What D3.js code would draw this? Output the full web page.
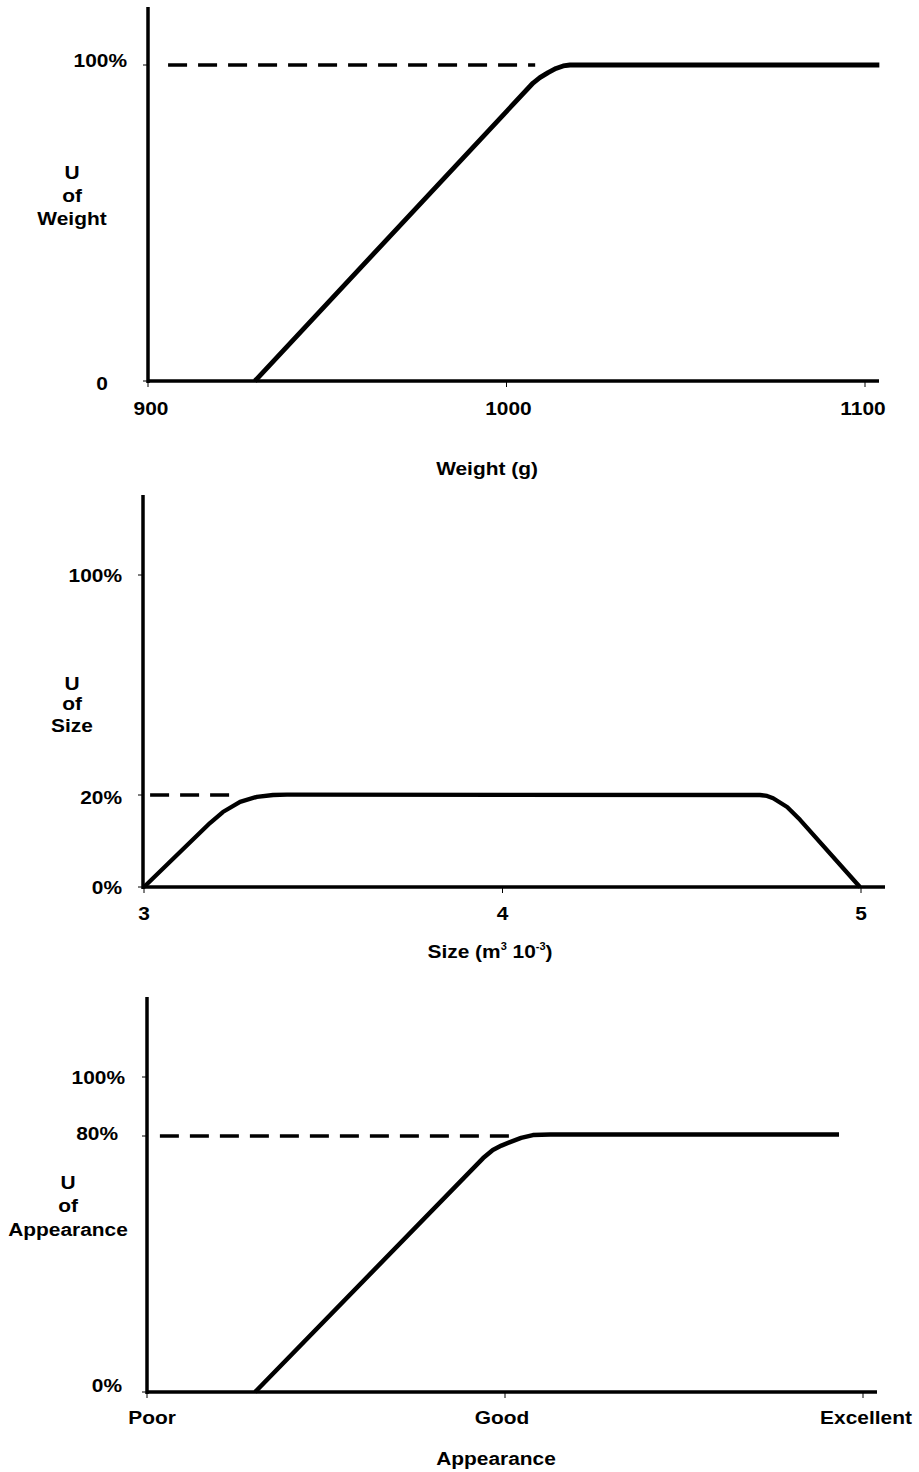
<!DOCTYPE html>
<html><head><meta charset="utf-8">
<script src="https://cdn.jsdelivr.net/npm/d3@7"></script>
<style>
body{margin:0;background:#fff}
text{font-family:"Liberation Sans",Arial,sans-serif;font-weight:bold;font-size:19px;fill:#000}
</style>
</head><body>
<svg id="c" width="919" height="1472"></svg>
<script>
// ---------- DATA ----------
// Chart 1: utility of weight
const weightTicks = [900, 1000, 1100];
const weightUTicks = [0, 100];
const weightUTickLabels = ["0", "100%"];
const weightX = [929.8, 1007.4, 1009.3, 1011.6, 1013.8, 1015.8, 1017.7, 1104];
const weightU = [0, 94.3, 96.0, 97.6, 98.9, 99.7, 100, 100];
const weightRefX = [905.6, 1008];
const weightRefU = [100, 100];

// Chart 2: utility of size
const sizeTicks = [3, 4, 5];
const sizeUTicks = [0, 20, 100];
const sizeUTickLabels = ["0%", "20%", "100%"];
const sizeX = [3.0, 3.184, 3.220, 3.268, 3.315, 3.360, 3.399, 4.718, 4.738, 4.755, 4.794, 4.830, 4.997];
const sizeU = [0, 13.9, 16.3, 18.5, 19.6, 20.0, 20.1, 20.0, 19.8, 19.3, 17.4, 14.6, 0];
const sizeRefX = [3.017, 3.24];
const sizeRefU = [20, 20];

// Chart 3: utility of appearance
const appearanceCats = ["Poor", "Good", "Excellent"];
const appearanceUTicks = [0, 80, 100];
const appearanceUTickLabels = ["0%", "80%", "100%"];
const appearanceX = [0.302, 0.939, 0.966, 0.990, 1.014, 1.045, 1.078, 1.126, 1.933];
const appearanceU = [0, 73.1, 75.6, 77.0, 78.1, 79.4, 80.3, 80.5, 80.5];
const appearanceRefX = [0.036, 1.02];
const appearanceRefU = [80, 80];

// ---------- LAYOUT ----------
const charts = [
  {
    xDomain: [900, 1100], xRange: [148, 865],
    yDomain: [0, 100], yRange: [381, 65],
    axisX: 148, axisTop: 7, axisY: 381, axisRight: 879,
    xTicks: weightTicks, xFmt: d => String(d), xLabelDx: [3, 2, -2], xLabelDy: 27,
    yTicks: weightUTicks, yLabels: weightUTickLabels,
    yLabelX: [102, 127], yLabelAnchor: ["middle", "end"], yLabelDy: [2, -5],
    yTitle: ["U", "of", "Weight"], yTitleX: 72, yTitleY: [172, 195, 218],
    xTitle: "Weight (g)", xTitleX: 487, xTitleY: 468,
    lineX: weightX, lineY: weightU, refX: weightRefX, refY: weightRefU, lw: 4.8
  },
  {
    xDomain: [3, 5], xRange: [144, 861],
    yDomain: [0, 20, 100], yRange: [887, 795, 575],
    axisX: 143, axisTop: 495, axisY: 887, axisRight: 885,
    xTicks: sizeTicks, xFmt: d => String(d), xLabelDx: [0, 0, 0], xLabelDy: 26,
    yTicks: sizeUTicks, yLabels: sizeUTickLabels,
    yLabelX: [122, 122, 122], yLabelAnchor: ["end", "end", "end"], yLabelDy: [0, 2, 0],
    yTitle: ["U", "of", "Size"], yTitleX: 72, yTitleY: [683, 703, 725],
    xTitle: null, xTitleX: 490, xTitleY: 951,
    lineX: sizeX, lineY: sizeU, refX: sizeRefX, refY: sizeRefU, lw: 4.3
  },
  {
    xDomain: [0, 2], xRange: [147, 863],
    yDomain: [0, 80, 100], yRange: [1392, 1136, 1077],
    axisX: 147, axisTop: 997, axisY: 1392, axisRight: 877,
    xTicks: [0, 1, 2], xFmt: i => appearanceCats[i], xLabelDx: [5, -3, 3], xLabelDy: 25,
    yTicks: appearanceUTicks, yLabels: appearanceUTickLabels,
    yLabelX: [122, 118, 125], yLabelAnchor: ["end", "end", "end"], yLabelDy: [-7, -3, 0],
    yTitle: ["U", "of", "Appearance"], yTitleX: 68, yTitleY: [1182, 1205, 1229],
    xTitle: "Appearance", xTitleX: 496, xTitleY: 1458,
    lineX: appearanceX, lineY: appearanceU, refX: appearanceRefX, refY: appearanceRefU, lw: 4.5
  }
];

const svg = d3.select("#c");
const SX = 1.1;

function addText(g, x, y, str, anchor) {
  return g.append("text")
    .attr("transform", `translate(${x},${y}) scale(${SX},1)`)
    .attr("text-anchor", anchor || "middle")
    .attr("dy", "0.36em")
    .text(str);
}

charts.forEach((c) => {
  const g = svg.append("g");
  const x = d3.scaleLinear().domain(c.xDomain).range(c.xRange);
  const y = d3.scaleLinear().domain(c.yDomain).range(c.yRange);

  // axis lines
  g.append("line").attr("x1", c.axisX).attr("x2", c.axisX)
    .attr("y1", c.axisTop).attr("y2", c.axisY + 2)
    .attr("stroke", "#000").attr("stroke-width", 3.5);
  g.append("line").attr("x1", c.axisX).attr("x2", c.axisRight)
    .attr("y1", c.axisY).attr("y2", c.axisY)
    .attr("stroke", "#000").attr("stroke-width", 3.5);

  // x ticks
  c.xTicks.forEach((t, i) => {
    g.append("line").attr("x1", x(t)).attr("x2", x(t))
      .attr("y1", c.axisY).attr("y2", c.axisY + 6)
      .attr("stroke", "#000").attr("stroke-width", 1);
    addText(g, x(t) + c.xLabelDx[i], c.axisY + c.xLabelDy, c.xFmt(t), "middle");
  });

  // y ticks
  c.yTicks.forEach((t, i) => {
    g.append("line").attr("x1", c.axisX - 5).attr("x2", c.axisX)
      .attr("y1", y(t)).attr("y2", y(t))
      .attr("stroke", "#000").attr("stroke-width", 1);
    g.append("text")
      .attr("transform", `translate(${c.yLabelX[i]},${y(t) + c.yLabelDy[i]}) scale(${SX},1)`)
      .attr("text-anchor", c.yLabelAnchor[i])
      .attr("dy", "0.36em")
      .text(c.yLabels[i]);
  });

  // y title
  c.yTitle.forEach((s, i) => addText(g, c.yTitleX, c.yTitleY[i], s, "middle"));

  // x title
  if (c.xTitle) {
    addText(g, c.xTitleX, c.xTitleY, c.xTitle, "middle");
  } else {
    const t = g.append("text")
      .attr("transform", `translate(${c.xTitleX},${c.xTitleY + 7}) scale(${SX},1)`)
      .attr("text-anchor", "middle");
    t.append("tspan").text("Size (m");
    t.append("tspan").attr("font-size", "10px").attr("dy", "-8").text("3");
    t.append("tspan").attr("dy", "8").text(" 10");
    t.append("tspan").attr("font-size", "10px").attr("dy", "-8").text("-3");
    t.append("tspan").attr("dy", "8").text(")");
  }

  // reference dashed line
  const refData = c.refX.map((v, i) => [v, c.refY[i]]);
  g.append("path").datum(refData)
    .attr("d", d3.line().x(d => x(d[0])).y(d => y(d[1])))
    .attr("fill", "none").attr("stroke", "#000").attr("stroke-width", 3.5)
    .attr("stroke-dasharray", "19,11");

  // utility curve
  const data = c.lineX.map((v, i) => [v, c.lineY[i]]);
  g.append("path").datum(data)
    .attr("d", d3.line().x(d => x(d[0])).y(d => y(d[1])))
    .attr("fill", "none").attr("stroke", "#000").attr("stroke-width", c.lw)
    .attr("stroke-linejoin", "round");
});
</script>
</body></html>
